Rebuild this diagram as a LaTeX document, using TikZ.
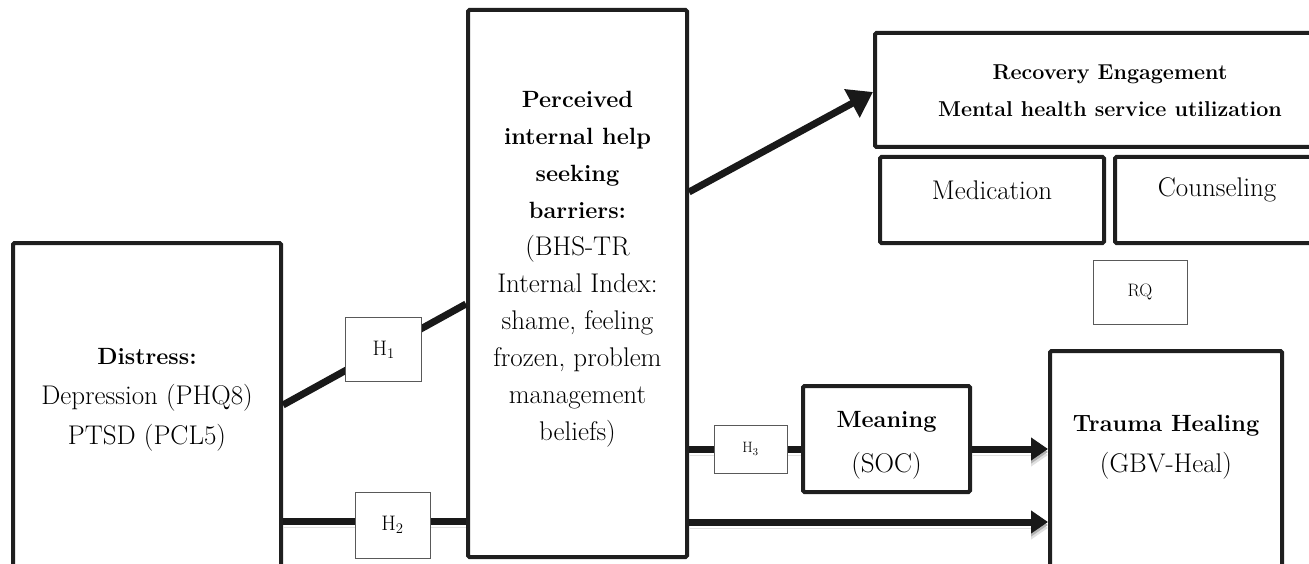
\documentclass[tikz,border=0pt]{standalone}
\usepackage{fontspec}
\usetikzlibrary{arrows.meta}
\newcommand\regtext{\fontsize{27}{37}\selectfont}
\newcommand\boldtext{\bfseries\fontsize{23.5}{37}\selectfont}
\begin{document}
\begin{tikzpicture}[x=1pt,y=-1pt,
  box/.style={draw=black!88, line width=4pt, rounded corners=1.5pt, inner sep=0pt},
  hbox/.style={draw=black!65, line width=0.9pt, fill=white, inner sep=0pt},
  txt/.style={align=center, inner sep=0pt, text=black},
  conn/.style={draw=black!90, line width=7pt},
  tip/.style={-{Triangle[length=17pt,width=22pt]}},
  bigtip/.style={-{Triangle[length=24pt,width=31pt]}},
  shadowed/.style={
    preaction={draw=black!12, transform canvas={yshift=-6pt}},
    preaction={draw=black!30, transform canvas={yshift=-3pt}}},
]
\useasboundingbox (0,0) rectangle (1309,564);
\clip (0,0) rectangle (1309,564);

% outcome and predictor boxes
\node[box, minimum width=268, minimum height=324] (distress) at (147,405) {};
\node[box, minimum width=219, minimum height=547] (barrier) at (577.5,283.5) {};
\node[box, minimum width=472, minimum height=114] (recovery) at (1111,90) {};
\node[box, minimum width=224, minimum height=86] (medication) at (992,200) {};
\node[box, minimum width=205, minimum height=86] (counseling) at (1217.5,200) {};
\node[box, minimum width=167, minimum height=106] (meaning) at (886.5,439) {};
\node[box, minimum width=232, minimum height=249] (trauma) at (1166,475.5) {};

% texts
\node[txt, font=\fontsize{27}{40}\selectfont] (distresstext) at (147,400)
  {{\bfseries\fontsize{23.5}{40}\selectfont Distress:}\\ Depression (PHQ8)\\ PTSD (PCL5)};
\node[txt, font=\regtext] (barriertext) at (577.5,269)
  {{\boldtext Perceived}\\ {\boldtext internal help}\\ {\boldtext seeking}\\
   {\boldtext barriers:}\\ (BHS-TR\\ Internal Index:\\
   shame, feeling\\ frozen, problem\\ management\\ beliefs)};
\node[txt, font=\bfseries\fontsize{21.5}{37}\selectfont] (recoverytext) at (1110,91)
  {Recovery Engagement\\ Mental health service utilization};
\node[txt, font=\regtext] (medtext) at (992,190) {Medication};
\node[txt, font=\regtext] (countext) at (1217,190) {Counseling};
\node[txt, font=\fontsize{27}{45}\selectfont] (meaningtext) at (886.5,445)
  {{\bfseries\fontsize{23.5}{45}\selectfont Meaning}\\ (SOC)};
\node[txt, font=\fontsize{27}{41}\selectfont] (traumatext) at (1166,447)
  {{\bfseries\fontsize{23.5}{41}\selectfont Trauma Healing}\\ (GBV-Heal)};

% research question label
\node[hbox, minimum width=94, minimum height=64, font=\fontsize{18}{20}\selectfont] (rq) at (1140,292) {RQ};

% paths
\draw[conn] (distress.east) --
  node[hbox, pos=0.55, minimum width=76, minimum height=64, font=\fontsize{21}{22}\selectfont] (h1) {H\textsubscript{1}}
  ([yshift=-20.5pt]barrier.west);
\draw[conn, shadowed] ([yshift=-116pt]distress.east) -- ([yshift=-237.5pt]barrier.west);
\node[hbox, minimum width=75, minimum height=66, font=\fontsize{21}{22}\selectfont] (h2) at (392.5,525) {H\textsubscript{2}};

\draw[conn, bigtip] ([yshift=91.5pt]barrier.east) -- ([yshift=-2pt]recovery.west);

\draw[conn, shadowed] ([yshift=-165.5pt]barrier.east) -- ([yshift=-10pt]meaning.west);
\node[hbox, minimum width=73, minimum height=48, font=\fontsize{15}{16}\selectfont] (h3) at (750.5,449) {\raisebox{-5pt}{H\textsubscript{3}}};

\draw[conn, tip, shadowed] ([yshift=-10pt]meaning.east) -- ([yshift=26.5pt]trauma.west);
\draw[conn, tip, shadowed] ([yshift=-238.5pt]barrier.east) -- ([yshift=-46.5pt]trauma.west);
\end{tikzpicture}
\end{document}
